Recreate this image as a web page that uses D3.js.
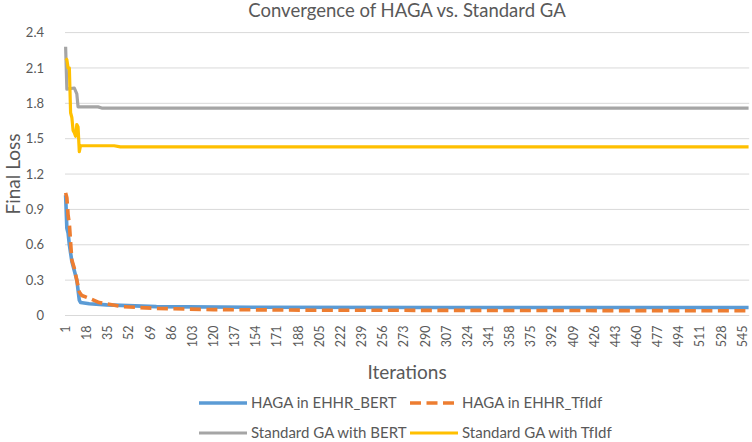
<!DOCTYPE html>
<html><head><meta charset="utf-8">
<script src="https://cdn.jsdelivr.net/npm/d3@7"></script>
<style>
body{margin:0;background:#fff}
text{font-family:Lato,"Open Sans",sans-serif;fill:#595959}
</style>
</head><body>
<svg id="chart" width="752" height="442"></svg>
<script>
// ---------- data ----------
const title = "Convergence of HAGA vs. Standard GA";
const xTitle = "Iterations";
const yTitle = "Final Loss";
const iterationCount = 550;
const xTickStep = 17;
const yTickValues = [0, 0.3, 0.6, 0.9, 1.2, 1.5, 1.8, 2.1, 2.4];
const yTickLabels = ["0", "0.3", "0.6", "0.9", "1.2", "1.5", "1.8", "2.1", "2.4"];
const seriesNames = ["HAGA in EHHR_BERT", "HAGA in EHHR_TfIdf", "Standard GA with BERT", "Standard GA with TfIdf"];
const seriesColors = ["#5B9BD5", "#ED7D31", "#A5A5A5", "#FFC000"];
// [iteration, loss] readings (values held constant between readings)
const hagaBert = [[1,1.02],[2,0.74],[3,0.70],[4,0.60],[6,0.46],[8,0.38],[10,0.30],[12,0.13],[13,0.11],[20,0.10],[34,0.09],[74,0.075],[150,0.07],[300,0.068],[550,0.068]];
const hagaTfidf = [[1,1.04],[2,1.00],[3,0.85],[4,0.78],[5,0.62],[6,0.47],[8,0.40],[10,0.30],[12,0.20],[14,0.17],[19,0.15],[28,0.11],[47,0.075],[74,0.06],[120,0.05],[200,0.045],[550,0.04]];
const gaBert = [[1,2.28],[2,1.92],[8,1.93],[10,1.88],[11,1.77],[27,1.77],[30,1.76],[550,1.76]];
const gaTfidf = [[1,2.18],[2,2.17],[3,2.10],[4,2.10],[5,1.72],[6,1.68],[7,1.57],[8,1.55],[9,1.52],[10,1.62],[11,1.60],[12,1.39],[13,1.44],[40,1.44],[45,1.43],[550,1.43]];

// ---------- layout ----------
const svg = d3.select("#chart");
const plot = {left: 65, right: 749.2, top: 32.6, bottom: 315.5};
const iterations = d3.range(1, iterationCount + 1);
const x = d3.scaleBand().domain(iterations).range([plot.left, plot.right]).padding(0);
const xc = i => x(i) + x.bandwidth() / 2;
const y = d3.scaleLinear().domain([0, 2.4]).range([plot.bottom, plot.top]);

// gridlines
svg.append("g").selectAll("line").data(yTickValues).join("line")
  .attr("x1", plot.left).attr("x2", plot.right)
  .attr("y1", d => y(d)).attr("y2", d => y(d))
  .attr("stroke", "#D9D9D9").attr("stroke-width", 1);

// y axis
const yAxis = d3.axisLeft(y).tickValues(yTickValues).tickFormat((d, i) => yTickLabels[i]).tickSize(0).tickPadding(0);
const gy = svg.append("g").attr("transform", `translate(${plot.left - 21},0)`).call(yAxis);
gy.select(".domain").remove();
gy.selectAll("text").style("font-size", "13px").style("font-family", "Lato").attr("fill", "#595959");

// x axis
const xTicks = iterations.filter(i => (i - 1) % xTickStep === 0);
const xAxis = d3.axisBottom(x).tickValues(xTicks).tickSize(0).tickPadding(0);
const gx = svg.append("g").attr("transform", `translate(0,${plot.bottom})`).call(xAxis);
gx.select(".domain").remove();
gx.selectAll("text")
  .style("font-size", "12.5px").style("font-family", "Lato").attr("fill", "#595959")
  .attr("transform", "rotate(-90)")
  .attr("text-anchor", "end")
  .attr("x", -10).attr("y", 0).attr("dy", "0.35em");

// lines
const line = d3.line().x(d => xc(d[0])).y(d => y(d[1]));
const allSeries = [hagaBert, hagaTfidf, gaBert, gaTfidf];
allSeries.forEach((s, k) => {
  svg.append("path").datum(s).attr("d", line)
    .attr("fill", "none").attr("stroke", seriesColors[k])
    .attr("stroke-width", k < 2 ? 3.6 : 3.2).attr("stroke-linejoin", "round")
    .attr("stroke-dasharray", k === 1 ? "11,5.5" : null);
});

// titles
svg.append("text").attr("x", 407).attr("y", 11).attr("dy", "0.35em")
  .attr("text-anchor", "middle").style("font-size", "18.5px").text(title);
svg.append("text").attr("x", 407).attr("y", 372).attr("dy", "0.35em")
  .attr("text-anchor", "middle").style("font-size", "19px").text(xTitle);
svg.append("text").attr("transform", `translate(13,${(plot.top + plot.bottom) / 2}) rotate(-90)`)
  .attr("dy", "0.35em").attr("text-anchor", "middle").style("font-size", "19px").text(yTitle);

// legend
const legendPos = [[199, 403], [410, 403], [199, 433], [410, 433]];
seriesNames.forEach((name, k) => {
  const [lx, ly] = legendPos[k];
  svg.append("line").attr("x1", lx).attr("x2", lx + 48).attr("y1", ly).attr("y2", ly)
    .attr("stroke", seriesColors[k]).attr("stroke-width", k < 2 ? 3.6 : 3.2)
    .attr("stroke-dasharray", k === 1 ? "11,5.5" : null);
  svg.append("text").attr("x", lx + 52).attr("y", ly).attr("dy", "0.35em")
    .style("font-size", "15px").text(name);
});
</script>
</body></html>
